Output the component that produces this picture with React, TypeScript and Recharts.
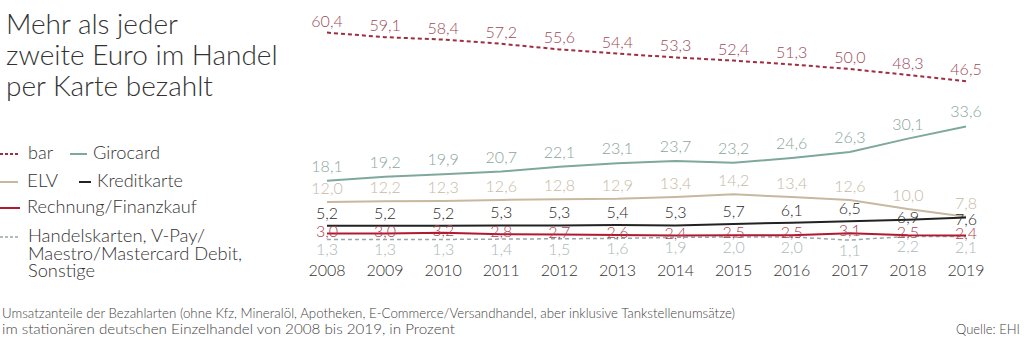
import React from 'react';
import { LineChart, Line, XAxis, YAxis, LabelList } from 'recharts';

const years = ['2008', '2009', '2010', '2011', '2012', '2013', '2014', '2015', '2016', '2017', '2018', '2019'];
const bar = [60.4, 59.1, 58.4, 57.2, 55.6, 54.4, 53.3, 52.4, 51.3, 50.0, 48.3, 46.5];
const girocard = [18.1, 19.2, 19.9, 20.7, 22.1, 23.1, 23.7, 23.2, 24.6, 26.3, 30.1, 33.6];
const elv = [12.0, 12.2, 12.3, 12.6, 12.8, 12.9, 13.4, 14.2, 13.4, 12.6, 10.0, 7.8];
const kreditkarte = [5.2, 5.2, 5.2, 5.3, 5.3, 5.4, 5.3, 5.7, 6.1, 6.5, 6.9, 7.6];
const rechnung = [3.0, 3.0, 3.2, 2.8, 2.7, 2.6, 2.4, 2.5, 2.5, 3.1, 2.5, 2.4];
const handelskarten = [1.3, 1.3, 1.3, 1.4, 1.5, 1.6, 1.9, 2.0, 2.0, 1.1, 2.2, 2.1];

const data = years.map((year, i) => ({
  year,
  bar: bar[i],
  girocard: girocard[i],
  elv: elv[i],
  kreditkarte: kreditkarte[i],
  rechnung: rechnung[i],
  handelskarten: handelskarten[i],
}));

const FONT = 'Lato, "Open Sans", sans-serif';

const fmt = (v: number) => v.toFixed(1).replace('.', ',');

const makeLabel = (color: string, dy: number, overrides?: (i: number) => number | undefined) => (props: any) => {
  const { x, y, value, index } = props;
  const o = overrides ? overrides(index) : undefined;
  const d = o !== undefined ? o : dy;
  return (
    <text x={x} y={y + d} textAnchor="middle" fill={color} fontSize={16} fontFamily={FONT} fontWeight={300}>
      {fmt(Number(value))}
    </text>
  );
};

const YearTick = (props: any) => {
  const { x, y, payload } = props;
  return (
    <text x={x} y={y + 32} textAnchor="middle" fill="#333" fontSize={16} fontFamily={FONT} fontWeight={300}>
      {payload.value}
    </text>
  );
};

const C = {
  bar: '#9e2f42',
  barText: '#9a4b58',
  giro: '#7fa89c',
  giroText: '#8ba59d',
  elv: '#c7b8a0',
  elvText: '#c6baa6',
  kredit: '#222222',
  kreditText: '#2a2a2a',
  rech: '#b01a30',
  rechText: '#b0404f',
  handel: '#9aa6a6',
  handelText: '#adb8b8',
};

export default function App() {
  const textStyle = { fontFamily: FONT, fontWeight: 300 } as any;
  return (
    <div style={{ position: 'absolute', left: 0, top: 0, width: 1024, height: 343, background: '#fff' }}>
      <LineChart width={1024} height={343} data={data} margin={{ top: 6, right: 58, left: 327, bottom: 69 }}>
        <XAxis
          dataKey="year"
          axisLine={false}
          tickLine={false}
          tickSize={0}
          tickMargin={0}
          height={30}
          padding={{ left: 0, right: 0 }}
          interval={0}
          tick={<YearTick />}
        />
        <YAxis hide domain={[0, 68]} />
        <Line dataKey="handelskarten" stroke={C.handel} strokeWidth={1.5} strokeDasharray="4 3" dot={false} isAnimationActive={false}>
          <LabelList dataKey="handelskarten" content={makeLabel(C.handelText, 16)} />
        </Line>
        <Line dataKey="elv" stroke={C.elv} strokeWidth={2} dot={false} isAnimationActive={false}>
          <LabelList dataKey="elv" content={makeLabel(C.elvText, -8)} />
        </Line>
        <Line dataKey="girocard" stroke={C.giro} strokeWidth={2} dot={false} isAnimationActive={false}>
          <LabelList dataKey="girocard" content={makeLabel(C.giroText, -9)} />
        </Line>
        <Line dataKey="bar" stroke={C.bar} strokeWidth={2} strokeDasharray="4 3" dot={false} isAnimationActive={false}>
          <LabelList dataKey="bar" content={makeLabel(C.barText, -6)} />
        </Line>
        <Line dataKey="kreditkarte" stroke={C.kredit} strokeWidth={2} dot={false} isAnimationActive={false}>
          <LabelList dataKey="kreditkarte" content={makeLabel(C.kreditText, -7, (i) => (i === 10 ? 3 : i === 11 ? 8 : undefined))} />
        </Line>
        <Line dataKey="rechnung" stroke={C.rech} strokeWidth={2} dot={false} isAnimationActive={false}>
          <LabelList dataKey="rechnung" content={makeLabel(C.rechText, 3)} />
        </Line>
      </LineChart>
      <svg width={1024} height={343} style={{ position: 'absolute', left: 0, top: 0, pointerEvents: 'none' }}>
        <g fill="#333" fontSize={28} style={textStyle}>
          <text x={6} y={34}>Mehr als jeder</text>
          <text x={6} y={65}>zweite Euro im Handel</text>
          <text x={6} y={96}>per Karte bezahlt</text>
        </g>
        <g fontSize={17} fill="#333" style={textStyle}>
          <line x1={0} y1={154} x2={20} y2={154} stroke={C.bar} strokeWidth={2} strokeDasharray="3 2" />
          <text x={28} y={159} textLength={25} lengthAdjust="spacingAndGlyphs">bar</text>
          <line x1={70} y1={154} x2={87} y2={154} stroke={C.giro} strokeWidth={2} />
          <text x={93} y={159} textLength={67} lengthAdjust="spacingAndGlyphs">Girocard</text>
          <line x1={0} y1={182} x2={18} y2={182} stroke={C.elv} strokeWidth={2} />
          <text x={27} y={187} textLength={31} lengthAdjust="spacingAndGlyphs">ELV</text>
          <line x1={79} y1={182} x2={91} y2={182} stroke={C.kredit} strokeWidth={2} />
          <text x={97} y={187} textLength={86} lengthAdjust="spacingAndGlyphs">Kreditkarte</text>
          <line x1={0} y1={208} x2={20} y2={208} stroke={C.rech} strokeWidth={2} />
          <text x={27} y={213} textLength={170} lengthAdjust="spacingAndGlyphs">Rechnung/Finanzkauf</text>
          <line x1={0} y1={237} x2={20} y2={237} stroke={C.handel} strokeWidth={1.5} strokeDasharray="3 2" />
          <text x={28} y={242} textLength={177} lengthAdjust="spacingAndGlyphs">Handelskarten, V-Pay/</text>
          <text x={28} y={260} textLength={214} lengthAdjust="spacingAndGlyphs">Maestro/Mastercard Debit,</text>
          <text x={28} y={277} textLength={67} lengthAdjust="spacingAndGlyphs">Sonstige</text>
        </g>
        <g fontSize={13} fill="#444" style={textStyle}>
          <text x={2} y={318} textLength={733} lengthAdjust="spacingAndGlyphs">
            Umsatzanteile der Bezahlarten (ohne Kfz, Mineralöl, Apotheken, E-Commerce/Versandhandel, aber inklusive Tankstellenumsätze)
          </text>
          <text x={2} y={334} textLength={453} lengthAdjust="spacingAndGlyphs">
            im stationären deutschen Einzelhandel von 2008 bis 2019, in Prozent
          </text>
          <text x={1020} y={334} textAnchor="end">Quelle: EHI</text>
        </g>
      </svg>
    </div>
  );
}
